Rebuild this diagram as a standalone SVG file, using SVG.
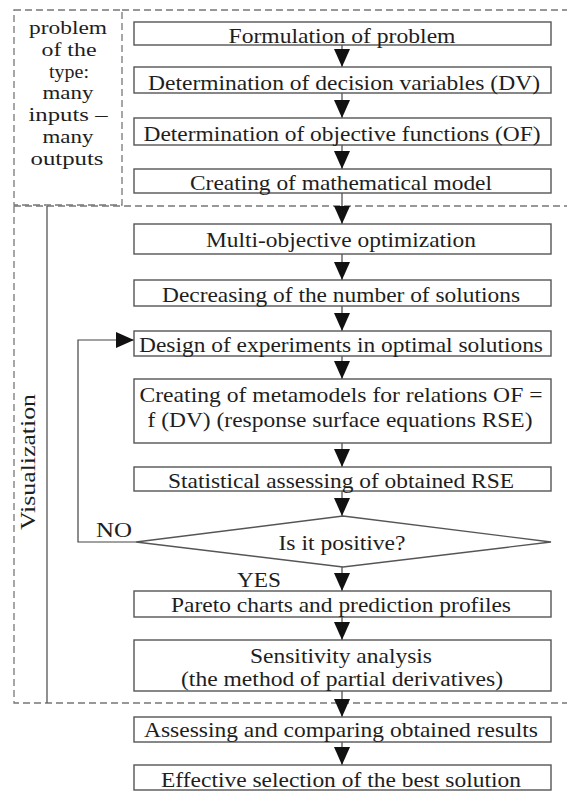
<svg xmlns="http://www.w3.org/2000/svg" width="567" height="794" viewBox="0 0 567 794">
<style>
.box{fill:#fff;stroke:#555;stroke-width:1.4}
.dash{fill:none;stroke:#777;stroke-width:1.3;stroke-dasharray:7 4}
.con{fill:none;stroke:#444;stroke-width:1.2}
text{font-family:"Liberation Serif","Times New Roman","DejaVu Serif",serif;font-size:22px;fill:#1e1e1e}
.c{text-anchor:middle}
.s{font-size:19px}
</style>
<defs>
<marker id="ah" markerUnits="userSpaceOnUse" markerWidth="18" markerHeight="16" refX="18" refY="8" orient="auto">
<path d="M0,0 L18,8 L0,16 z" fill="#111"/>
</marker>
</defs>
<rect width="567" height="794" fill="#fff"/>
<g id="frames">
<rect class="dash" x="14" y="10" width="108" height="195"/>
<path class="dash" d="M122,10 H567 M14,206 H567 M14,206 V703 H567"/>
<line x1="47" y1="206" x2="47" y2="703" stroke="#555" stroke-width="1.3"/>
</g>
<g id="left-label" font-family="Liberation Serif, Times New Roman, serif">
<text class="c s" x="68" y="34" textLength="78" lengthAdjust="spacingAndGlyphs">problem</text>
<text class="c s" x="69" y="56" textLength="55" lengthAdjust="spacingAndGlyphs">of the</text>
<text class="c s" x="69" y="78" textLength="40" lengthAdjust="spacingAndGlyphs">type:</text>
<text class="c s" x="68" y="99" textLength="51" lengthAdjust="spacingAndGlyphs">many</text>
<text class="c s" x="68" y="121" textLength="79" lengthAdjust="spacingAndGlyphs">inputs –</text>
<text class="c s" x="68" y="143" textLength="51" lengthAdjust="spacingAndGlyphs">many</text>
<text class="c s" x="67" y="165" textLength="73" lengthAdjust="spacingAndGlyphs">outputs</text>
</g>
<g id="visualization-label">
<text class="c" transform="translate(35,462) rotate(-90)" x="0" y="0" textLength="136" lengthAdjust="spacingAndGlyphs">Visualization</text>
</g>
<g id="connectors">
<line class="con" x1="342" y1="45" x2="342" y2="67" marker-end="url(#ah)"/>
<line class="con" x1="342" y1="93" x2="342" y2="118" marker-end="url(#ah)"/>
<line class="con" x1="342" y1="145" x2="342" y2="169" marker-end="url(#ah)"/>
<line class="con" x1="342" y1="193" x2="342" y2="224" marker-end="url(#ah)"/>
<line class="con" x1="342" y1="254" x2="342" y2="280" marker-end="url(#ah)"/>
<line class="con" x1="342" y1="306" x2="342" y2="331" marker-end="url(#ah)"/>
<line class="con" x1="342" y1="356" x2="342" y2="379" marker-end="url(#ah)"/>
<line class="con" x1="342" y1="443" x2="342" y2="467" marker-end="url(#ah)"/>
<line class="con" x1="342" y1="491" x2="342" y2="516" marker-end="url(#ah)"/>
<line class="con" x1="342" y1="567" x2="342" y2="591" marker-end="url(#ah)"/>
<line class="con" x1="342" y1="617" x2="342" y2="640" marker-end="url(#ah)"/>
<line class="con" x1="342" y1="691" x2="342" y2="717" marker-end="url(#ah)"/>
<line class="con" x1="342" y1="742" x2="342" y2="765" marker-end="url(#ah)"/>
<polyline class="con" points="136,542 78,542 78,340 134,340" marker-end="url(#ah)"/>
<text x="96" y="537" textLength="36" lengthAdjust="spacingAndGlyphs">NO</text>
<text x="237" y="587" textLength="44" lengthAdjust="spacingAndGlyphs">YES</text>
</g>
<g id="n1"><rect class="box" x="134" y="22" width="417" height="23"/>
<text class="c" x="342" y="43" textLength="227" lengthAdjust="spacingAndGlyphs">Formulation of problem</text></g>
<g id="n2"><rect class="box" x="134" y="67" width="417" height="26"/>
<text class="c" x="344" y="90" textLength="392" lengthAdjust="spacingAndGlyphs">Determination of decision variables (DV)</text></g>
<g id="n3"><rect class="box" x="134" y="118" width="417" height="27"/>
<text class="c" x="342" y="141" textLength="397" lengthAdjust="spacingAndGlyphs">Determination of objective functions (OF)</text></g>
<g id="n4"><rect class="box" x="134" y="169" width="417" height="24"/>
<text class="c" x="341" y="190" textLength="302" lengthAdjust="spacingAndGlyphs">Creating of mathematical model</text></g>
<g id="n5"><rect class="box" x="134" y="224" width="417" height="30"/>
<text class="c" x="341" y="247" textLength="270" lengthAdjust="spacingAndGlyphs">Multi-objective optimization</text></g>
<g id="n6"><rect class="box" x="134" y="280" width="417" height="26"/>
<text class="c" x="341" y="302" textLength="358" lengthAdjust="spacingAndGlyphs">Decreasing of the number of solutions</text></g>
<g id="n7"><rect class="box" x="134" y="331" width="417" height="25"/>
<text class="c" x="341" y="352" textLength="404" lengthAdjust="spacingAndGlyphs">Design of experiments in optimal solutions</text></g>
<g id="n8"><rect class="box" x="134" y="379" width="417" height="64"/>
<text class="c" x="341" y="402" textLength="403" lengthAdjust="spacingAndGlyphs">Creating of metamodels for relations OF =</text>
<text class="c" x="340" y="427" textLength="385" lengthAdjust="spacingAndGlyphs">f (DV) (response surface equations RSE)</text></g>
<g id="n9"><rect class="box" x="134" y="467" width="417" height="24"/>
<text class="c" x="341" y="488" textLength="346" lengthAdjust="spacingAndGlyphs">Statistical assessing of obtained RSE</text></g>
<g id="n10"><polygon class="box" points="343,516 551,542 343,567 136,542"/>
<text class="c" x="342" y="550" textLength="127" lengthAdjust="spacingAndGlyphs">Is it positive?</text></g>
<g id="n11"><rect class="box" x="134" y="591" width="417" height="26"/>
<text class="c" x="341" y="612" textLength="340" lengthAdjust="spacingAndGlyphs">Pareto charts and prediction profiles</text></g>
<g id="n12"><rect class="box" x="134" y="640" width="417" height="51"/>
<text class="c" x="341" y="663" textLength="182" lengthAdjust="spacingAndGlyphs">Sensitivity analysis</text>
<text class="c" x="342" y="686" textLength="322" lengthAdjust="spacingAndGlyphs">(the method of partial derivatives)</text></g>
<g id="n13"><rect class="box" x="134" y="717" width="417" height="25"/>
<text class="c" x="341" y="737" textLength="394" lengthAdjust="spacingAndGlyphs">Assessing and comparing obtained results</text></g>
<g id="n14"><rect class="box" x="134" y="765" width="417" height="25"/>
<text class="c" x="341" y="787" textLength="360" lengthAdjust="spacingAndGlyphs">Effective selection of the best solution</text></g>
</svg>
